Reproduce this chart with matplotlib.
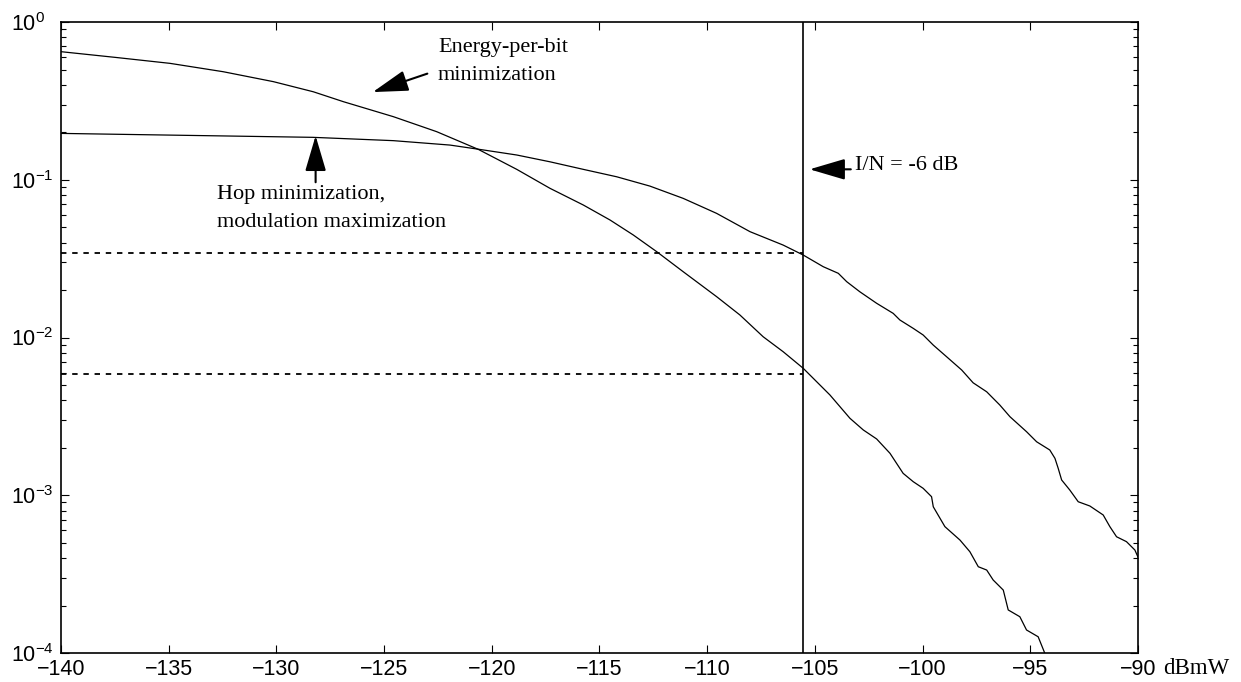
import numpy as np
import matplotlib
matplotlib.use("Agg")
import matplotlib.pyplot as plt

# Energy-per-bit minimization curve (x in dBmW, y as log10 of probability)
energy_x = [-140.0, -137.49, -134.94, -132.47, -130.14, -128.29, -126.89, -124.57, -122.56, -120.63,
            -118.84, -117.30, -115.75, -114.51, -113.43, -112.34, -111.11, -109.56, -108.48, -107.40,
            -106.47, -105.54, -104.30, -103.37, -102.75, -102.13, -101.51, -100.90, -100.43, -99.97,
            -99.58, -99.50, -98.96, -98.26, -97.80, -97.41, -97.02, -96.72, -96.25, -96.02,
            -95.48, -95.17, -94.63, -94.32]
energy_log = [-0.188, -0.224, -0.262, -0.315, -0.378, -0.442, -0.505, -0.600, -0.695, -0.807,
              -0.934, -1.054, -1.160, -1.255, -1.350, -1.456, -1.583, -1.741, -1.857, -1.995,
              -2.090, -2.195, -2.364, -2.512, -2.586, -2.643, -2.734, -2.861, -2.914, -2.956,
              -3.009, -3.073, -3.199, -3.284, -3.358, -3.453, -3.474, -3.537, -3.601, -3.727,
              -3.770, -3.854, -3.897, -4.002]

# Hop minimization / modulation maximization curve
hop_x = [-140.0, -128.30, -124.57, -121.94, -120.39, -118.84, -117.30, -115.75, -114.20, -112.66,
         -111.11, -109.56, -108.01, -106.47, -105.54, -104.61, -103.91, -103.52, -102.91, -102.13,
         -101.36, -101.05, -100.43, -99.97, -99.50, -98.88, -98.18, -97.65, -97.02, -96.41,
         -95.94, -95.17, -94.70, -94.09, -93.85, -93.70, -93.54, -93.16, -92.77, -92.23,
         -91.61, -91.30, -90.99, -90.53, -90.14, -90.0]
hop_log = [-0.706, -0.731, -0.752, -0.780, -0.811, -0.843, -0.886, -0.934, -0.981, -1.040,
           -1.118, -1.213, -1.329, -1.414, -1.477, -1.551, -1.593, -1.646, -1.710, -1.783,
           -1.847, -1.889, -1.942, -1.984, -2.048, -2.122, -2.206, -2.287, -2.344, -2.428,
           -2.502, -2.597, -2.661, -2.713, -2.766, -2.829, -2.903, -2.967, -3.041, -3.068,
           -3.125, -3.199, -3.263, -3.294, -3.347, -3.390]

threshold_x = -105.55
level_hop = 0.0343
level_energy = 0.00587

x_ticks = [-140, -135, -130, -125, -120, -115, -110, -105, -100, -95, -90]

plt.rcParams['font.family'] = ['Liberation Sans', 'DejaVu Sans']
plt.rcParams['mathtext.fontset'] = 'custom'
plt.rcParams['mathtext.rm'] = 'Liberation Sans'
plt.rcParams['mathtext.it'] = 'Liberation Sans:italic'
plt.rcParams['mathtext.default'] = 'regular'

fig = plt.figure(figsize=(12.41, 6.82), dpi=100)
ax = fig.add_axes([0.0492, 0.0425, 0.8677, 0.9252])

ax.plot(energy_x, 10 ** np.array(energy_log), color='black', lw=0.9)
ax.plot(hop_x, 10 ** np.array(hop_log), color='black', lw=0.9)
ax.axvline(threshold_x, color='black', lw=1.2)
for lvl in (level_hop, level_energy):
    ax.plot([-140, threshold_x], [lvl, lvl], color='black', lw=1.3, dashes=(3, 3.2))

ax.set_yscale('log')
ax.set_xlim(-140, -90)
ax.set_ylim(1e-4, 1)
ax.set_xticks(x_ticks)
ax.tick_params(which='both', direction='in', top=True, right=True, labelsize=15.5, width=0.8)
ax.tick_params(which='major', length=6)
ax.tick_params(which='minor', length=3.5)
ax.tick_params(axis='x', pad=4)
ax.tick_params(axis='y', pad=36)
for lab in ax.get_yticklabels():
    lab.set_horizontalalignment('left')
for s in ax.spines.values():
    s.set_linewidth(1.2)

serif = ['Liberation Serif', 'DejaVu Serif']
arrow = dict(arrowstyle='-|>,head_length=2.2,head_width=0.65', color='black', lw=1.5)

ax.annotate('', xy=(-125.65, 0.355), xytext=(-122.87, 0.477), arrowprops=arrow)
ax.text(-122.5, 0.56, 'Energy-per-bit\nminimization', family=serif, fontsize=16,
        ha='left', va='center', linespacing=1.62)

ax.annotate('', xy=(-128.18, 0.198), xytext=(-128.18, 0.0926), arrowprops=arrow)
ax.text(-132.76, 0.0655, 'Hop minimization,\nmodulation maximization', family=serif,
        fontsize=16, ha='left', va='center', linespacing=1.62)

ax.annotate('', xy=(-105.37, 0.1165), xytext=(-103.2, 0.1165), arrowprops=arrow)
ax.text(-103.15, 0.124, 'I/N = -6 dB', family=serif, fontsize=16, ha='left', va='center')

fig.text(1163 / 1241, 1 - 668 / 682, 'dBmW', family=serif, fontsize=16.5, ha='left', va='center')

fig.savefig('out.png', dpi=100)
